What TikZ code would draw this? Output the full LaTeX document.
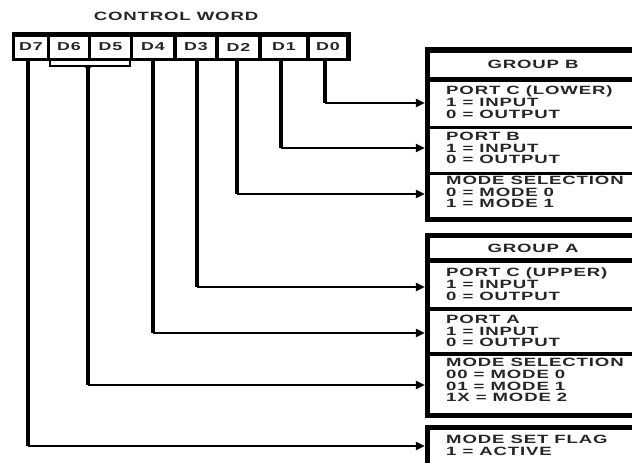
\documentclass[tikz,border=0pt]{standalone}
\usepackage{fontspec}
\setmainfont{Liberation Sans}[FakeStretch=1.55,LetterSpace=7]
\usetikzlibrary{arrows.meta}
\begin{document}
\begin{tikzpicture}[x=1pt,y=-1pt,
  lbl/.style={font=\bfseries\fontsize{12}{11.8}\selectfont, text=black!85, inner sep=0pt, align=left, anchor=west},
  hdr/.style={font=\bfseries\fontsize{12}{11.8}\selectfont, text=black!85, inner sep=0pt},
  cell/.style={fill=white, inner sep=0pt, minimum height=21pt, text=black!85, font=\bfseries\fontsize{11.5}{11}\selectfont},
  vline/.style={line width=3.2pt},
  hline/.style={line width=2.2pt, -{Triangle[length=9pt,width=8pt]}},
  frame/.style={line width=5.5pt},
  hrule/.style={line width=4.5pt},
  srule/.style={line width=3.5pt},
  row/.style={inner sep=0pt, minimum width=212pt}
]
\useasboundingbox (0,0) rectangle (632,463);
\clip (0,0) rectangle (632,463);

% title
\node[hdr] (title) at (176,16) {CONTROL WORD};

% register
\fill (12,32) rectangle (351,61);
\node[cell, minimum width=32pt] (d7) at (31,47) {D7};
\node[cell, minimum width=38pt] (d6) at (69,47) {D6};
\node[cell, minimum width=39pt] (d5) at (110.5,47) {D5};
\node[cell, minimum width=40pt] (d4) at (153,47) {D4};
\node[cell, minimum width=38pt] (d3) at (196,47) {D3};
\node[cell, minimum width=39pt] (d2) at (238.5,47) {D2};
\node[cell, minimum width=44pt] (d1) at (284,47) {D1};
\node[cell, minimum width=36pt] (d0) at (328,47) {D0};

% bracket under D6 D5
\draw[line width=2pt] (d6.south west |- 0,61) -- (d6.south west |- 0,66) -- (d5.south east |- 0,66) -- (d5.south east |- 0,61);
\coordinate (br) at (88,66);
\fill (83.5,65) -- (92.5,65) -- (88,71) -- cycle;

% Group B box
\draw[frame] (427.5,50) rectangle (650,219.5);
\draw[hrule] (427,79.5) -- (650,79.5);
\draw[srule] (427,127.5) -- (650,127.5);
\draw[srule] (427,173.5) -- (650,173.5);
\node[hdr] (gb) at (533,64) {GROUP B};
\node[row, minimum height=44pt] (pcl) at (531,103) {};
\node[row, minimum height=43pt] (pb) at (531,148) {};
\node[row, minimum height=42pt] (msb) at (531,194) {};
\node[lbl] (pcltxt) at (446,102) {PORT C (LOWER)\\1 = INPUT\\0 = OUTPUT};
\node[lbl] (pbtxt) at (446,148) {PORT B\\1 = INPUT\\0 = OUTPUT};
\node[lbl] (msbtxt) at (446,192) {MODE SELECTION\\0 = MODE 0\\1 = MODE 1};

% Group A box
\draw[frame] (427.5,235.5) rectangle (650,415.5);
\draw[hrule] (427,260.5) -- (650,260.5);
\draw[srule] (427,309) -- (650,309);
\draw[srule] (427,354) -- (650,354);
\node[hdr] (ga) at (533,248) {GROUP A};
\node[row, minimum height=44pt] (pcu) at (531,287) {};
\node[row, minimum height=41pt] (pa) at (531,333) {};
\node[row, minimum height=56pt] (msa) at (531,385) {};
\node[lbl] (pcutxt) at (446,284) {PORT C (UPPER)\\1 = INPUT\\0 = OUTPUT};
\node[lbl] (patxt) at (446,331) {PORT A\\1 = INPUT\\0 = OUTPUT};
\node[lbl] (msatxt) at (446,380) {MODE SELECTION\\00 = MODE 0\\01 = MODE 1\\1X = MODE 2};

% Mode set flag box
\draw[frame] (427.5,427.5) rectangle (650,490);
\node[row, minimum height=30pt] (msf) at (531,446) {};
\node[lbl] (msftxt) at (446,445) {MODE SET FLAG\\1 = ACTIVE};

% connectors
\draw[vline] ([xshift=-3pt]d0.south) -- ([xshift=-3pt]d0.south |- pcl.west);
\draw[hline] ([xshift=-3pt]d0.south |- pcl.west) -- (pcl.west);
\draw[vline] ([xshift=-3pt]d1.south) -- ([xshift=-3pt]d1.south |- pb.west);
\draw[hline] ([xshift=-3pt]d1.south |- pb.west) -- (pb.west);
\draw[vline, line width=3.8pt] ([xshift=-1.5pt]d2.south) -- ([xshift=-1.5pt]d2.south |- msb.west);
\draw[hline] ([xshift=-1.5pt]d2.south |- msb.west) -- (msb.west);
\draw[vline, line width=3.8pt] ([xshift=1pt]d3.south) -- ([xshift=1pt]d3.south |- pcu.west);
\draw[hline] ([xshift=1pt]d3.south |- pcu.west) -- (pcu.west);
\draw[vline] (d4.south) -- (d4.south |- pa.west);
\draw[hline] (d4.south |- pa.west) -- (pa.west);
\draw[vline] (br) -- (br |- msa.west);
\draw[hline] (br |- msa.west) -- (msa.west);
\draw[vline] ([xshift=-3pt]d7.south) -- ([xshift=-3pt]d7.south |- msf.west);
\draw[hline] ([xshift=-3pt]d7.south |- msf.west) -- (msf.west);
\end{tikzpicture}
\end{document}
